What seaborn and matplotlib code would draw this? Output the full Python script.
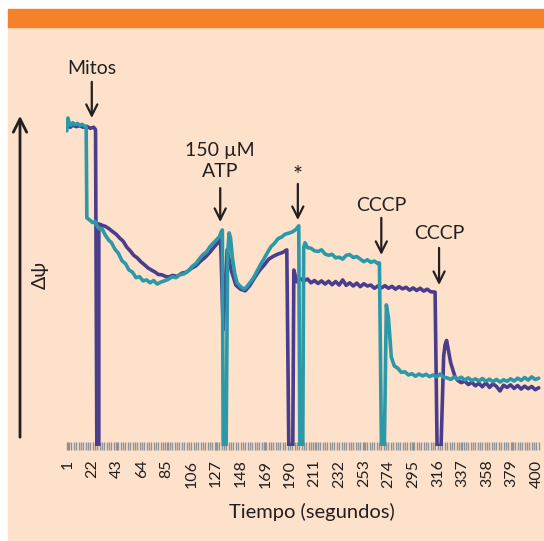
import matplotlib
matplotlib.use("Agg")
import matplotlib.pyplot as plt
from matplotlib.patches import Rectangle, FancyArrowPatch
import seaborn as sns
import pandas as pd
import numpy as np

sns.set_style("white")
plt.rcParams["font.family"] = ["Lato", "DejaVu Sans"]

# Teal recording: time (s) and membrane potential (arbitrary units)
teal_t = [0, 1, 2, 3.5, 5, 7, 9, 11, 13, 15, 16.5,
          17.1, 19.6, 22, 24, 26, 28, 30, 33, 36, 38, 41, 44, 47, 50, 53, 56, 59, 62, 65,
          68, 71, 74, 77, 80, 83, 86, 90, 93, 96, 100, 104, 107, 110, 113, 116, 119, 122,
          125, 128, 130, 131.5, 132.5,
          133.2, 135.7, 137, 138.3, 139.5, 141, 143, 145, 148, 151, 153, 156, 159, 162,
          165, 168, 171, 174, 177, 180, 183, 186, 189, 192, 195, 197.6,
          198.5, 201, 201.8, 203, 205, 208, 211, 214, 217, 220, 223, 226, 229, 232, 235,
          238, 241, 244, 247, 250, 253, 256, 259, 262, 265, 266.3,
          268, 270.5, 272.2, 274, 276.4, 279, 282, 285, 288, 291, 294, 297, 300, 303, 306,
          309, 312, 315, 318, 321, 324, 327, 330, 333, 336, 339, 342, 345, 348, 351, 354,
          357, 360, 363, 366, 369, 372, 375, 378, 381, 384, 387, 390, 393, 396, 399, 402]
teal_v = [98.5, 102.5, 101.0, 100.2, 101.0, 100.4, 100.8, 100.2, 100.5, 100.0, 99.8,
          71.3, 70.6, 69.8, 70.2, 68.6, 67.8, 67.9, 65.8, 64.2, 63.6, 61.5, 60.2, 57.9,
          57.0, 55.0, 54.3, 52.6, 52.9, 51.6, 51.9, 51.0, 51.7, 50.6, 51.2, 51.6, 52.0,
          52.9, 52.6, 53.5, 53.8, 54.9, 56.2, 57.0, 58.5, 59.8, 60.6, 62.3, 63.5, 64.6,
          65.4, 66.9, 67.5,
          0, 0, 60.0, 66.6, 65.0, 59.0, 54.0, 51.0, 49.8, 49.0, 49.6, 51.0, 52.5, 54.6,
          56.7, 58.5, 60.5, 62.3, 63.4, 64.8, 65.3, 66.2, 66.5, 66.9, 67.6, 68.8,
          0, 0, 62.2, 63.5, 62.0, 61.8, 61.0, 60.8, 61.3, 60.0, 59.6, 59.9, 58.8, 59.0,
          58.4, 59.6, 59.8, 58.9, 59.2, 58.4, 57.6, 58.2, 57.4, 57.8, 57.0, 57.2,
          0, 0, 44.1, 40.0, 27.8, 25.0, 24.3, 23.0, 23.2, 22.2, 22.6, 21.8, 22.5, 21.9,
          22.4, 21.7, 22.2, 21.6, 22.5, 21.5, 21.3, 20.8, 21.6, 20.9, 21.5, 20.6, 21.3,
          20.4, 21.0, 20.3, 21.1, 20.2, 20.9, 20.1, 20.8, 20.0, 20.7, 20.2, 21.0, 20.3,
          21.2, 20.5, 21.4, 20.6, 21.6, 20.8, 21.2]

# Purple recording
purple_t = [1, 3, 5, 8, 11, 14, 17, 20, 23, 24.5,
            25.6, 27.3, 27.3, 30, 33, 36, 39, 42, 45, 48, 51, 54, 57, 60, 63, 66, 69, 72,
            75, 78, 81, 84, 87, 90, 94, 98, 102, 106, 110, 114, 118, 122, 126, 130, 131,
            133.2, 135, 136.6, 140, 144, 148, 152, 156, 160, 164, 168, 172, 176, 180, 184,
            187.4,
            189.1, 192.5, 193.4, 196, 199, 202, 205, 208, 211, 214, 217, 220, 223, 226,
            229, 232, 235, 238, 241, 244, 247, 250, 253, 256, 259, 262, 265, 268, 271,
            274, 277, 280, 283, 286, 289, 292, 295, 298, 301, 304, 307, 310, 313.7,
            315.4, 318.8, 321, 322.2, 323.5, 325, 327, 330.7, 333, 336, 339, 342, 345,
            348, 351, 354, 357, 360, 363, 366, 369, 372, 375, 378, 381, 384, 387, 390,
            393, 396, 399, 402]
purple_v = [100.2, 99.6, 100.3, 99.8, 100.1, 99.6, 99.9, 99.3, 99.6, 98.8,
            0, 0, 69.4, 69.0, 68.6, 67.9, 67.0, 66.2, 65.0, 64.0, 62.2, 61.0, 59.6, 58.8,
            57.6, 56.7, 55.7, 55.0, 54.4, 53.6, 53.5, 53.0, 52.8, 53.3, 53.0, 54.0, 54.3,
            55.5, 56.3, 57.8, 59.0, 60.6, 62.4, 64.0, 65.0,
            36.3, 50.0, 61.3, 55.0, 50.3, 49.0, 48.5, 50.2, 52.6, 54.8, 56.5, 58.4, 59.3,
            60.0, 60.5, 61.3,
            0, 0, 55.0, 51.3, 52.3, 51.6, 52.2, 51.0, 51.7, 50.8, 51.6, 50.6, 51.5, 50.4,
            51.4, 50.3, 51.9, 50.2, 51.0, 50.0, 50.9, 49.8, 50.7, 50.0, 50.3, 49.3, 50.0,
            49.4, 50.1, 49.3, 49.9, 49.0, 49.8, 49.1, 49.6, 48.7, 49.4, 48.6, 49.3, 48.4,
            49.0, 48.2, 48.1,
            0, 0, 28.0, 31.6, 33.0, 30.0, 26.0, 21.6, 20.5, 19.8, 20.3, 19.2, 19.9, 18.8,
            19.6, 18.5, 19.8, 18.3, 19.4, 18.6, 17.2, 19.0, 18.3, 19.1, 18.0, 18.9, 17.8,
            18.7, 17.9, 18.6, 17.6, 18.2]

tick_labels = [1, 22, 43, 64, 85, 106, 127, 148, 169, 190, 211, 232, 253, 274,
               295, 316, 337, 358, 379, 400]

# Additions marked above the traces: (label, x, arrow tail, arrow tip, text y, size)
events = [("Mitos", 21.3, 113.8, 102.5, 118.1, 14),
          ("150 µM\nATP", 130.7, 80.6, 70.0, 89.0, 14),
          ("*", 196.8, 81.9, 70.6, 84.6, 17),
          ("CCCP", 267.9, 71.3, 59.7, 75.3, 14),
          ("CCCP", 317.1, 61.9, 50.3, 66.3, 14)]

TEAL = "#2c98a8"
PURPLE = "#4a3d8c"
INK = "#231f20"

fig = plt.figure(figsize=(5.44, 5.41), dpi=100, facecolor="white")
fig.patches.append(Rectangle((8 / 544, 0), 1, 1 - 27 / 541, transform=fig.transFigure,
                             color="#fde1ca", zorder=-10))
fig.patches.append(Rectangle((8 / 544, 1 - 27 / 541), 1, 18 / 541, transform=fig.transFigure,
                             color="#f5812a", zorder=-10))

ax = fig.add_axes([65.6 / 544, (541 - 446) / 541, 475.5 / 544, 352 / 541])
ax.set_zorder(5)
ax.set_facecolor("none")

df_teal = pd.DataFrame({"t": teal_t, "v": teal_v})
df_purple = pd.DataFrame({"t": purple_t, "v": purple_v})
sns.lineplot(data=df_purple, x="t", y="v", ax=ax, color=PURPLE, lw=2.6,
             estimator=None, sort=False, zorder=3)
sns.lineplot(data=df_teal, x="t", y="v", ax=ax, color=TEAL, lw=2.6,
             estimator=None, sort=False, zorder=4)

ax.set_xlim(-1, 404)
ax.set_ylim(0, 110)
for s in ax.spines.values():
    s.set_visible(False)
ax.set_yticks([])
ax.set_xticks(tick_labels)
ax.set_xticklabels([str(v) for v in tick_labels], rotation=90, fontsize=11.5, color=INK)
ax.set_xticks(np.arange(0, 404, 2), minor=True)
ax.tick_params(axis="x", which="both", bottom=True, direction="inout", length=5.5,
               width=1.0, color="#8d9396", pad=7)
ax.set_xlabel("")
ax.set_ylabel("")

for label, x, tail, tip, ty, size in events:
    ax.annotate("", xy=(x, tip), xytext=(x, tail), annotation_clip=False,
                arrowprops=dict(arrowstyle="->", lw=1.6, color=INK, mutation_scale=20,
                                shrinkA=0, shrinkB=0))
    ax.text(x, ty, label, ha="center", va="center", fontsize=size, color=INK,
            linespacing=1.3, clip_on=False)

# y-axis arrow and label
fig.add_artist(FancyArrowPatch(
    (20 / 544, 1 - 440 / 541), (20 / 544, 1 - 113 / 541), transform=fig.transFigure,
    arrowstyle="->", mutation_scale=24, lw=2.0, color=INK))
fig.text(40 / 544, 1 - 275 / 541, "Δψ", rotation=90, ha="center", va="center",
         fontsize=14, color=INK)

fig.text(312 / 544, 1 - 512 / 541, "Tiempo (segundos)", ha="center", va="center",
         fontsize=14.5, color=INK)

fig.savefig("out.png", dpi=100, facecolor=fig.get_facecolor())
